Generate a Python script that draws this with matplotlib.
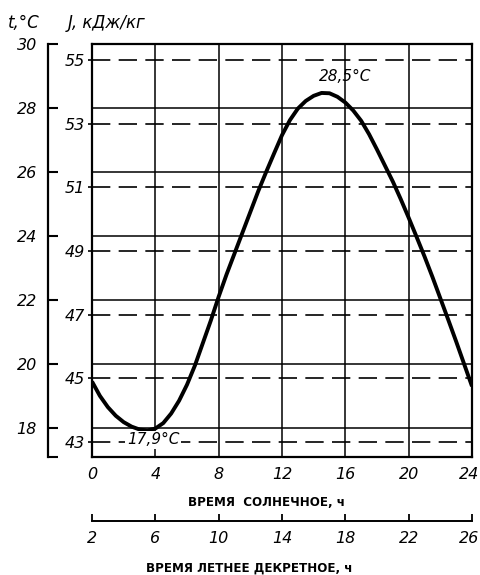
import matplotlib
matplotlib.use("Agg")
import matplotlib.pyplot as plt
from matplotlib.transforms import ScaledTranslation

# ---- data ----
hours = [0, 0.5, 1, 1.5, 2, 2.5, 3, 3.5, 4, 4.5, 5, 5.5, 6, 6.5, 7, 7.5, 8, 8.5,
         9, 9.5, 10, 10.5, 11, 11.5, 12, 12.5, 13, 13.5, 14, 14.5, 15, 15.5, 16,
         16.5, 17, 17.5, 18, 18.5, 19, 19.5, 20, 20.5, 21, 21.5, 22, 22.5, 23,
         23.5, 24]
temps = [19.45, 19.0, 18.65, 18.38, 18.18, 18.04, 17.95, 17.92, 17.98, 18.15,
         18.45, 18.85, 19.35, 19.95, 20.65, 21.35, 22.1, 22.8, 23.45, 24.1,
         24.75, 25.4, 26.0, 26.58, 27.15, 27.62, 27.98, 28.22, 28.38, 28.47,
         28.46, 28.35, 28.17, 27.92, 27.6, 27.18, 26.7, 26.2, 25.7, 25.15, 24.57,
         23.97, 23.36, 22.72, 22.05, 21.38, 20.7, 20.0, 19.3]
solar_ticks = [0, 4, 8, 12, 16, 20, 24]
decree_ticks = [2, 6, 10, 14, 18, 22, 26]
t_ticks = [18, 20, 22, 24, 26, 28, 30]
j_ticks = [43, 45, 47, 49, 51, 53, 55]
max_label = "28,5°C"
min_label = "17,9°C"
max_pos = (15.98, 28.97)
min_pos = (3.85, 17.63)
xlabel1 = "ВРЕМЯ  СОЛНЕЧНОЕ, ч"
xlabel2 = "ВРЕМЯ ЛЕТНЕЕ ДЕКРЕТНОЕ, ч"

FAM = ['DejaVu Sans']
W, H = 480, 575
L, R, T, B = 92, 472, 44, 457
t_lo, t_hi = 17.09, 30.0
j_lo, j_hi = 42.525, 55.503

fig = plt.figure(figsize=(W / 100, H / 100), dpi=100)

def rect(l, r, t, b):
    return [l / W, 1 - b / H, (r - l) / W, (b - t) / H]

def shift_last(axis_obj, dx_px):
    lab = axis_obj.get_majorticklabels()[-1]
    lab.set_transform(lab.get_transform() +
                      ScaledTranslation(dx_px / 100, 0, fig.dpi_scale_trans))

# J axis (dashed lines) underneath
ax2 = fig.add_axes(rect(L, R, T, B))
ax2.set_xlim(0, 24)
ax2.set_ylim(j_lo, j_hi)
for j in j_ticks:
    ax2.axhline(j, color='black', lw=1.2, ls=(0, (11, 5)))
ax2.set_xticks([])
ax2.set_yticks(j_ticks)
ax2.set_yticklabels([str(j) for j in j_ticks], family=FAM, style='italic', fontsize=11.5)
ax2.tick_params(axis='y', direction='out', length=3, width=1.2, pad=2)
for s in ax2.spines.values():
    s.set_visible(False)

# main axes (temperature)
ax = fig.add_axes(rect(L, R, T, B))
ax.set_zorder(ax2.get_zorder() + 1)
ax.patch.set_visible(False)
ax.set_xlim(0, 24)
ax.set_ylim(t_lo, t_hi)
for t in t_ticks[:-1]:
    ax.axhline(t, color='black', lw=1.1)
for h in solar_ticks[1:-1]:
    ax.axvline(h, color='black', lw=1.1)
ax.plot(hours, temps, color='black', lw=2.8, solid_capstyle='butt')
ax.set_xticks(solar_ticks)
ax.set_xticklabels([str(h) for h in solar_ticks], family=FAM, style='italic', fontsize=11.5)
ax.tick_params(axis='x', length=0, pad=7)
ax.set_yticks([])
for s in ax.spines.values():
    s.set_linewidth(1.6)
shift_last(ax.xaxis, -3)
ax.text(*max_pos, max_label, ha='center', va='center', family=FAM,
        style='italic', fontsize=11)
ax.text(*min_pos, min_label, ha='center', va='center', family=FAM,
        style='italic', fontsize=11,
        bbox=dict(facecolor='white', edgecolor='none', pad=1))

# separate temperature scale (bracket)
axt = fig.add_axes(rect(48, 60, T, B))
axt.set_ylim(t_lo, t_hi)
axt.patch.set_visible(False)
for k in ['top', 'right', 'bottom']:
    axt.spines[k].set_visible(False)
axt.spines['left'].set_linewidth(1.6)
axt.set_xticks([])
axt.set_yticks(t_ticks)
axt.set_yticklabels([str(t) for t in t_ticks], family=FAM, style='italic', fontsize=11.5)
axt.set_yticks([t_lo], minor=True)
axt.tick_params(axis='y', which='both', direction='in', length=7, width=1.5, pad=8)

# summer decree time axis
axd = fig.add_axes(rect(L, R, 515, 521))
axd.set_xlim(decree_ticks[0], decree_ticks[-1])
axd.patch.set_visible(False)
for k in ['top', 'right', 'left']:
    axd.spines[k].set_visible(False)
axd.spines['bottom'].set_linewidth(1.4)
axd.set_yticks([])
axd.set_xticks(decree_ticks)
axd.set_xticklabels([str(d) for d in decree_ticks], family=FAM, style='italic', fontsize=11.5)
axd.tick_params(axis='x', direction='in', length=5, width=1.3, pad=7)
shift_last(axd.xaxis, -3)

# texts
fig.text(8 / W, 1 - 23 / H, "t,°C", family=FAM, style='italic', fontsize=12,
         ha='left', va='center')
fig.text(68 / W, 1 - 23 / H, "J, кДж/кг", family=FAM, style='italic', fontsize=12,
         ha='left', va='center')
fig.text(267 / W, 1 - 502 / H, xlabel1, fontsize=8.6, fontweight='bold',
         ha='center', va='center')
fig.text(249 / W, 1 - 568 / H, xlabel2, fontsize=8.6, fontweight='bold',
         ha='center', va='center')

fig.savefig("out.png", dpi=100)
